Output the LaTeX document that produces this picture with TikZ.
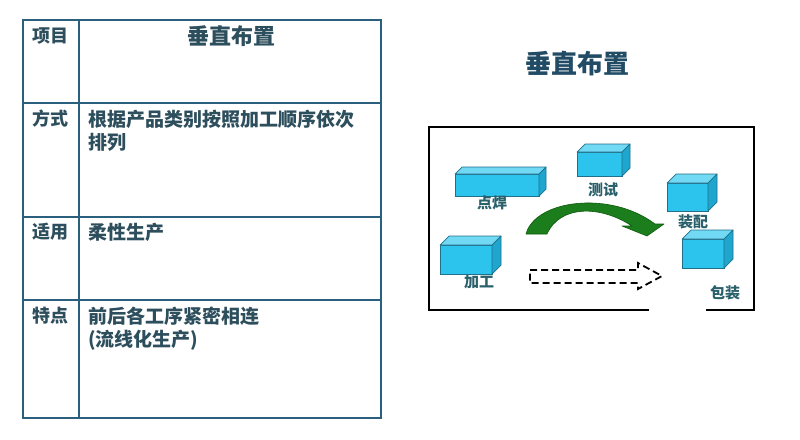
\documentclass[tikz,border=0pt]{standalone}
\usepackage{fontspec}
\setmainfont{Noto Sans CJK SC}
\usepackage{tikz}
\usetikzlibrary{positioning}
\definecolor{tabline}{HTML}{2A5F7E}
\definecolor{tabtext}{HTML}{2D4E5C}
\definecolor{boxfront}{HTML}{2CC3EC}
\definecolor{boxtop}{HTML}{72D9F5}
\definecolor{boxside}{HTML}{1EA6CF}
\definecolor{boxedge}{HTML}{21708A}
\definecolor{arrowgreen}{HTML}{1B7D1B}
\definecolor{arrowdark}{HTML}{0E5A0E}

\begin{document}
\begin{tikzpicture}[x=1pt,y=-1pt]
\tikzset{cell/.style = {anchor=west,inner sep=0pt,text=tabtext,font=\fontsize{18}{23}\selectfont\bfseries}}
\tikzset{entry/.style = {cell,font=\fontsize{19}{23}\selectfont\bfseries}}
\tikzset{block/.style = {draw=boxedge,fill=boxfront,line width=0.7pt,inner sep=0pt,outer sep=0pt}}
\tikzset{face/.style = {draw=boxedge,line width=0.7pt,line join=round}}
\tikzset{tag/.style = {inner sep=0pt,text=tabtext!90!cyan,font=\fontsize{15}{15}\selectfont\bfseries}}
\useasboundingbox[fill=white] (0,0) rectangle (800,439);
% table
\draw[tabline,line width=1.2pt] (79,20) -- (79,418);
\draw[tabline,line width=1.2pt] (23,103) -- (381,103);
\draw[tabline,line width=1.2pt] (23,217) -- (381,217);
\draw[tabline,line width=1.2pt] (23,300) -- (381,300);
\draw[tabline,line width=2.6pt] (23,20) rectangle (381,418);
\node[cell] (xm) at (32,36) {项目};
\node[cell,anchor=center,font=\fontsize{22}{22}\selectfont\bfseries] (hd) at (231,36) {垂直布置};
\node[cell] (fs) at (32,119) {方式};
\node[entry] (fs1) at (88,119) {根据产品类别按照加工顺序依次};
\node[entry] (fs2) at (88,142) {排列};
\node[cell] (sy) at (32,232) {适用};
\node[entry] (sy1) at (88,232) {柔性生产};
\node[cell] (td) at (32,316) {特点};
\node[entry] (td1) at (88,316) {前后各工序紧密相连};
\node[entry] (td2) at (88,340) {(流线化生产)};
% title
\node[text=tabline!80!black,font=\fontsize{26}{26}\selectfont\bfseries] (title) at (577,64) {垂直布置};
% frame with opening
\draw[line width=2.4pt,line join=miter] (649,310) -- (429,310) -- (429,127) -- (754,127) -- (754,310) -- (706,310);
% boxes
\node[block,minimum width=84pt,minimum height=22pt] (dh) at (497,185) {};
\node[block,minimum width=45pt,minimum height=24pt] (cs) at (599.5,164) {};
\node[block,minimum width=41pt,minimum height=28pt] (zp) at (687.5,197) {};
\node[block,minimum width=42pt,minimum height=29pt] (bz) at (703,253.5) {};
\node[block,minimum width=52pt,minimum height=29pt] (jg) at (466,259.5) {};
\foreach \b/\d in {dh/7,cs/8,zp/9,bz/9,jg/9}{
  \draw[face,fill=boxtop] (\b.north west) -- ++(\d,-\d) -- ([shift={(\d,-\d)}]\b.north east) -- (\b.north east) -- cycle;
  \draw[face,fill=boxside] (\b.north east) -- ++(\d,-\d) -- ([shift={(\d,-\d)}]\b.south east) -- (\b.south east) -- cycle;
}
% labels
\node[tag] (dhl) at (492,203) {点焊};
\node[tag] (csl) at (603,190) {测试};
\node[tag] (zpl) at (693,222) {装配};
\node[tag] (jgl) at (479,282) {加工};
\node[tag] (bzl) at (725,293) {包装};
% curved arrow
\fill[arrowgreen,draw=arrowdark,line width=0.6pt,line join=round]
  (526,234) .. controls (535,200) and (610,190) .. (655,224) -- (664,224) -- (647,236)
  -- (622,226) -- (632,226) .. controls (600,205) and (560,205) .. (547,234) -- cycle;
% dashed arrow
\draw[line width=1.8pt,dash pattern=on 7pt off 4pt]
  (530,270) -- (638,270) -- (638,263) -- (662,276) -- (638,289) -- (638,283) -- (530,283) -- cycle;
\end{tikzpicture}
\end{document}
